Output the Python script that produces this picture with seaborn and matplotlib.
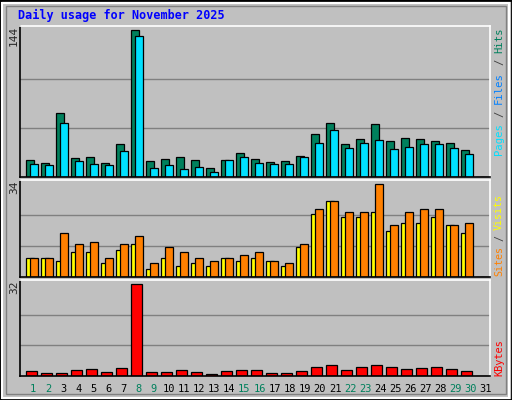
import matplotlib
matplotlib.use("Agg")
import matplotlib.pyplot as plt
import seaborn as sns
import numpy as np
import pandas as pd
from matplotlib.patches import Rectangle

days = list(range(1, 32))
hits = [17,14,63,19,20,14,32,144,16,18,20,17,9,17,24,18,15,16,21,42,53,32,37,52,35,38,37,35,33,26,0]
files = [13,12,53,16,13,12,25,138,9,12,8,10,5,17,20,14,13,13,20,33,46,28,33,36,27,29,32,32,28,23,0]
visits = [7,7,6,9,9,5,10,12,3,7,4,5,4,7,6,7,6,4,11,23,28,22,22,24,17,20,20,22,19,16,0]
sites = [7,7,16,12,13,7,12,15,5,11,9,7,6,7,8,9,6,5,12,25,28,24,24,34,19,24,25,25,19,20,0]
kbytes = [1.8,1.1,1.1,2.1,2.5,1.4,2.8,32,1.4,1.4,2.1,1.4,0.7,1.8,2.1,2.1,1.1,1.1,1.8,3.2,3.9,2.1,3.2,3.9,3.2,2.5,2.8,3.2,2.5,1.8,0]
weekend = [1,2,8,9,15,16,22,23,29,30]

sns.set_style("white")
plt.rcParams['font.family'] = ['DejaVu Sans Mono', 'DejaVu Sans']
W, H = 512, 400
fig = plt.figure(figsize=(W/100, H/100), dpi=100)
fig.patch.set_facecolor("#C0C0C0")
fig.add_artist(Rectangle((0, 0), 1, 1, transform=fig.transFigure, fill=False, edgecolor="black", lw=2))
fig.add_artist(Rectangle((2/W, 2/H), 1-5/W, 1-5/H, transform=fig.transFigure, fill=False, edgecolor="white", lw=1.5))
fig.add_artist(Rectangle((6/W, 6/H), 1-12/W, 1-12/H, transform=fig.transFigure, fill=False, edgecolor="#808080", lw=1))

def panel(top, bottom):
    ax = fig.add_axes([20/W, 1-bottom/H, 470/W, (bottom-top)/H])
    ax.set_facecolor("#C0C0C0")
    ax.set_xlim(0.13, 31.46)
    ax.set_xticks([]); ax.set_yticks([])
    for s in ["left", "bottom"]:
        ax.spines[s].set_color("black")
    for s in ["top", "right"]:
        ax.spines[s].set_color("white")
    for sp in ax.spines.values():
        sp.set_linewidth(1.2)
    return ax

x = np.array(days, dtype=float)
ec = dict(edgecolor="black", linewidth=0.9)

ax1 = panel(26, 177)
ax1.set_ylim(0, 148)
for g in (48, 96):
    ax1.axhline(g, color="#808080", lw=1, zorder=0)
ax1.bar(x-0.47, hits, width=0.53, align="edge", color="#00805C", **ec)
ax1.bar(x-0.2, files, width=0.53, align="edge", color="#00E0FF", **ec)

ax2 = panel(180, 277)
ax2.set_ylim(0, 35.6)
for g in (34/3, 68/3):
    ax2.axhline(g, color="#808080", lw=1, zorder=0)
ax2.bar(x-0.47, visits, width=0.53, align="edge", color="#FFFF00", **ec)
ax2.bar(x-0.2, sites, width=0.53, align="edge", color="#FF8000", **ec)

ax3 = panel(280, 376)
ax3.set_ylim(0, 33.4)
for g in (32/3, 64/3):
    ax3.axhline(g, color="#808080", lw=1, zorder=0)
df = pd.DataFrame({"day": x - 0.1, "kb": kbytes})
ax3.bar(df["day"], df["kb"], width=0.7, color="#FF0000", **ec)

fig.text(18/W, 1-15/H, "Daily usage for November 2025", color="#0000FF",
         fontsize=8.5, fontweight="bold", va="center", ha="left")
for lbl, ytop in (("144", 26), ("34", 181), ("32", 281)):
    fig.text(14/W, 1-ytop/H, lbl, rotation=90, fontsize=8, va="top", ha="center")

for d in days:
    fig.text((33 + (d-1)*15.1)/W, 1-389/H, str(d), fontsize=7.5, ha="center", va="center",
             color="#00805C" if d in weekend else "black")

def side(parts, ybottom, step, fs):
    y = ybottom
    for txt, col in parts:
        if txt.strip():
            fig.text(499/W, 1-y/H, txt, rotation=90, color=col, fontsize=fs,
                     ha="center", va="bottom")
        y -= len(txt) * step
side([("Pages", "#00E0FF"), (" ", ""), ("/", "#404040"), (" ", ""), ("Files", "#0080FF"),
      (" ", ""), ("/", "#404040"), (" ", ""), ("Hits", "#00805C")], 155, 6.4, 7.6)
side([("Sites", "#FF8000"), (" ", ""), ("/", "#404040"), (" ", ""), ("Visits", "#FFFF00")], 276, 5.8, 7.2)
side([("KBytes", "#FF0000")], 376, 6.0, 7.4)

fig.savefig("out.png", dpi=100, facecolor=fig.get_facecolor())
